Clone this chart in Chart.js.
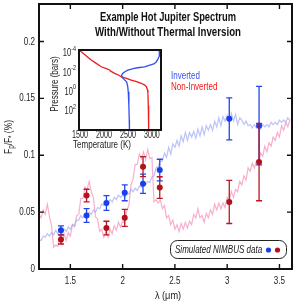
<!DOCTYPE html>
<html><head><meta charset="utf-8">
<script src="https://cdn.jsdelivr.net/npm/chart.js@4.4.0/dist/chart.umd.min.js"></script>
<style>
html,body{margin:0;padding:0;background:#fff;}
#wrap{position:relative;width:299px;height:306px;overflow:hidden;}
#main{position:absolute;left:0;top:0;}
#inset{position:absolute;left:45px;top:45px;}
</style></head><body>
<div id="wrap"><canvas id="main" width="299" height="306"></canvas><canvas id="inset" width="125" height="110"></canvas></div>
<script>
// ---------- data ----------
const wavelength = [
1.20,1.22,1.24,1.26,1.28,1.30,1.32,1.34,1.36,1.38,
1.40,1.42,1.44,1.46,1.48,1.50,1.52,1.54,1.56,1.58,
1.60,1.62,1.64,1.66,1.68,1.70,1.72,1.74,1.76,1.78,
1.80,1.82,1.84,1.86,1.88,1.90,1.92,1.94,1.96,1.98,
2.00,2.02,2.04,2.06,2.08,2.10,2.12,2.14,2.16,2.18,
2.20,2.22,2.24,2.26,2.28,2.30,2.32,2.34,2.36,2.38,
2.40,2.42,2.44,2.46,2.48,2.50,2.52,2.54,2.56,2.58,
2.60,2.62,2.64,2.66,2.68,2.70,2.72,2.74,2.76,2.78,
2.80,2.82,2.84,2.86,2.88,2.90,2.92,2.94,2.96,2.98,
3.00,3.02,3.04,3.06,3.08,3.10,3.12,3.14,3.16,3.18,
3.20,3.22,3.24,3.26,3.28,3.30,3.32,3.34,3.36,3.38,
3.40,3.42,3.44,3.46,3.48,3.50,3.52,3.54,3.56,3.58,
3.60];
const modelNonInverted = [
.048,.045,.052,.048,.057,.046,.038,.019,.021,.020,
.029,.022,.031,.025,.032,.029,.039,.037,.047,.048,
.062,.062,.072,.070,.077,.068,.063,.046,.044,.033,
.035,.028,.033,.028,.035,.031,.038,.034,.041,.037,
.042,.040,.051,.056,.074,.079,.092,.092,.101,.097,
.103,.096,.105,.097,.098,.059,.061,.058,.061,.053,
.056,.045,.047,.039,.043,.035,.039,.033,.040,.035,
.041,.036,.042,.039,.048,.045,.053,.045,.047,.041,
.049,.045,.052,.048,.057,.052,.058,.053,.058,.054,
.063,.060,.068,.063,.070,.068,.077,.074,.082,.078,
.089,.086,.093,.089,.095,.092,.102,.099,.108,.103,
.111,.108,.116,.113,.120,.116,.126,.122,.129,.125,
.131];
const modelInverted = [
.026,.025,.029,.028,.031,.029,.032,.030,.034,.031,
.034,.031,.035,.033,.037,.035,.039,.038,.043,.043,
.047,.045,.048,.046,.050,.048,.052,.050,.054,.053,
.057,.056,.060,.058,.061,.059,.063,.061,.065,.063,
.065,.063,.067,.066,.070,.068,.071,.069,.073,.072,
.076,.074,.077,.076,.081,.082,.089,.090,.095,.095,
.102,.098,.107,.101,.110,.107,.113,.108,.117,.112,
.120,.113,.120,.116,.121,.115,.123,.117,.125,.118,
.126,.122,.127,.122,.130,.125,.133,.126,.134,.130,
.135,.129,.137,.130,.136,.127,.133,.131,.127,.130,
.126,.127,.124,.127,.124,.126,.123,.127,.125,.127,
.125,.129,.127,.129,.127,.131,.129,.131,.129,.133,
.131];
const obsWave   = [1.41, 1.655, 1.845, 2.02, 2.195, 2.355, 3.02, 3.305];
const obsInv    = [0.034, 0.047, 0.058, 0.067, 0.075, 0.087, 0.132, 0.126];
const obsInvErr = [0.004, 0.006, 0.0065, 0.007, 0.0085, 0.0095, 0.0185, 0.0345];
const obsNon    = [0.026, 0.0646, 0.036, 0.045, 0.090, 0.0716, 0.059, 0.094];
const obsNonErr = [0.004, 0.0055, 0.006, 0.0075, 0.0088, 0.0095, 0.019, 0.034];
const xTicks = [1.5, 2, 2.5, 3, 3.5];
const xTickLabels = ['1.5', '2', '2.5', '3', '3.5'];
const yTicks = [0, 0.05, 0.1, 0.15, 0.2];
const yTickLabels = ['0', '0.05', '0.1', '0.15', '0.2'];

// inset T-P profiles (temperature K, log10 pressure in bars)
const invT    = [3165,3160,3150,3125,3090,3040,2958,2848,2700,2610,2500,2437,2390,2368,2380,2420,2472,2495,2507,2520,2528,2532];
const invLogP = [-4.3,-4.0,-3.6,-3.3,-3.0,-2.8,-2.68,-2.5,-2.4,-2.3,-2.15,-1.99,-1.8,-1.6,-1.4,-1.2,-0.95,-0.5,0.08,1.5,3.0,4.1];
const nonT    = [1460,1527,1640,1735,1840,1944,2050,2119,2140,2223,2300,2360,2470,2569,2680,2777,2850,2885,2910,2917,2925,2931,2935];
const nonLogP = [-4.35,-4.06,-3.6,-3.2,-2.85,-2.5,-2.3,-2.17,-2.05,-1.82,-1.65,-1.47,-1.3,-1.13,-0.96,-0.79,-0.6,-0.44,-0.1,0.25,1.5,3.0,4.1];
const insetTTicks = [1500, 2000, 2500, 3000];
const insetPTicks = [1e-4, 1e-2, 1, 1e2];
const insetPExp = ['-4', '-2', '0', '2'];

// ---------- styling ----------
const FF = '"Liberation Sans", Arial, sans-serif';
Chart.defaults.font.family = FF;
const TXT = '#222';
const SX = 0.73;   // horizontal condensing for the narrow typeface look
const BLUE_PT = '#1a3ee8', RED_PT = '#b3111c';

function txt(ctx, s, x, y, font, color, align, sx) {
  ctx.save();
  ctx.font = font; ctx.fillStyle = color; ctx.textAlign = align; ctx.textBaseline = 'middle';
  ctx.translate(x, y); ctx.scale(sx, 1);
  ctx.fillText(s, 0, 0);
  ctx.restore();
}
function txtFit(ctx, s, x, y, font, color, width) {
  ctx.save();
  ctx.font = font;
  const w = ctx.measureText(s).width;
  ctx.restore();
  txt(ctx, s, x, y, font, color, 'center', width / w);
}

const errPlugin = {
  id: 'err',
  beforeDatasetDraw(chart, args) {
    const ds = chart.data.datasets[args.index];
    if (!ds.errors) return;
    const ctx = chart.ctx, xs = chart.scales.x, ys = chart.scales.y;
    ctx.save();
    ctx.strokeStyle = ds.errColor; ctx.lineWidth = 1.3;
    ds.data.forEach((p, i) => {
      const e = ds.errors[i];
      const px = xs.getPixelForValue(p.x);
      const y1 = ys.getPixelForValue(p.y + e), y2 = ys.getPixelForValue(p.y - e);
      ctx.beginPath();
      ctx.moveTo(px, y1); ctx.lineTo(px, y2);
      ctx.moveTo(px - 3, y1); ctx.lineTo(px + 3, y1);
      ctx.moveTo(px - 3, y2); ctx.lineTo(px + 3, y2);
      ctx.stroke();
    });
    ctx.restore();
  }
};

const decorPlugin = {
  id: 'decor',
  afterDraw(chart) {
    const {ctx, chartArea: a, scales: {x, y}} = chart;
    ctx.save();
    // frame + inward ticks
    ctx.strokeStyle = '#111'; ctx.lineWidth = 2;
    ctx.strokeRect(a.left, a.top, a.right - a.left, a.bottom - a.top);
    ctx.lineWidth = 1.4;
    ctx.beginPath();
    xTicks.forEach(v => {
      const px = x.getPixelForValue(v);
      ctx.moveTo(px, a.bottom); ctx.lineTo(px, a.bottom - 5);
      ctx.moveTo(px, a.top); ctx.lineTo(px, a.top + 5);
    });
    yTicks.forEach(v => {
      const py = y.getPixelForValue(v);
      ctx.moveTo(a.left, py); ctx.lineTo(a.left + 5, py);
      ctx.moveTo(a.right, py); ctx.lineTo(a.right - 5, py);
    });
    ctx.stroke();
    ctx.restore();
    // tick labels
    xTicks.forEach((v, i) => txt(ctx, xTickLabels[i], x.getPixelForValue(v), a.bottom + 12, '11px ' + FF, TXT, 'center', SX));
    yTicks.forEach((v, i) => txt(ctx, yTickLabels[i], a.left - 4, y.getPixelForValue(v), '11px ' + FF, TXT, 'right', SX));
    // title
    txtFit(ctx, 'Example Hot Jupiter Spectrum', 168, 17.5, 'bold 13.5px ' + FF, '#111', 136);
    txtFit(ctx, 'With/Without Thermal Inversion', 168, 32.5, 'bold 13.5px ' + FF, '#111', 146);
    // x title
    txt(ctx, '\u03BB (\u03BCm)', 168, 296, '11.5px ' + FF, TXT, 'center', 0.8);
    // y title with subscripts
    ctx.save();
    ctx.translate(9, 137); ctx.rotate(-Math.PI / 2); ctx.scale(SX, 1);
    ctx.fillStyle = TXT; ctx.textBaseline = 'middle'; ctx.textAlign = 'left';
    const parts = [['F', 11.5, 0], ['p', 8.5, 3], ['/F', 11.5, 0], ['*', 8.5, 3], [' (%)', 11.5, 0]];
    let tw = 0;
    parts.forEach(p => { ctx.font = p[1] + 'px ' + FF; tw += ctx.measureText(p[0]).width; });
    let cx = -tw / 2;
    parts.forEach(p => { ctx.font = p[1] + 'px ' + FF; ctx.fillText(p[0], cx, p[2]); cx += ctx.measureText(p[0]).width; });
    ctx.restore();
    // inset legend labels
    txt(ctx, 'Inverted', 171, 76, '11px ' + FF, '#3550f0', 'left', SX);
    txt(ctx, 'Non-Inverted', 171, 87, '11px ' + FF, '#f01818', 'left', SX);
    // data legend box
    ctx.save();
    ctx.strokeStyle = '#222'; ctx.lineWidth = 1;
    ctx.beginPath();
    ctx.roundRect(170.5, 240.5, 116, 18, 7);
    ctx.stroke();
    ctx.restore();
    txt(ctx, 'Simulated NIMBUS data', 175, 250, 'italic 11.5px ' + FF, '#222', 'left', 0.7);
    ctx.save();
    ctx.fillStyle = BLUE_PT; ctx.beginPath(); ctx.arc(268.5, 250, 2.6, 0, Math.PI * 2); ctx.fill();
    ctx.fillStyle = RED_PT; ctx.beginPath(); ctx.arc(277.5, 250, 2.6, 0, Math.PI * 2); ctx.fill();
    ctx.restore();
  }
};

const xy = (xs, ys) => xs.map((v, i) => ({x: v, y: ys[i]}));

new Chart(document.getElementById('main'), {
  type: 'scatter',
  data: {
    datasets: [
      {data: xy(obsWave, obsNon), errors: obsNonErr, errColor: '#b81824', pointRadius: 3, pointBackgroundColor: RED_PT, pointBorderWidth: 0, showLine: false},
      {data: xy(obsWave, obsInv), errors: obsInvErr, errColor: '#2446ec', pointRadius: 3, pointBackgroundColor: BLUE_PT, pointBorderWidth: 0, showLine: false},
      {data: xy(wavelength, modelInverted), showLine: true, borderColor: 'rgba(160,170,245,0.7)', borderWidth: 1.2, pointRadius: 0, tension: 0},
      {data: xy(wavelength, modelNonInverted), showLine: true, borderColor: 'rgba(246,155,192,0.8)', borderWidth: 1.2, pointRadius: 0, tension: 0}
    ]
  },
  options: {
    responsive: false, animation: false,
    layout: {padding: {left: 0, right: 7, top: 4, bottom: 0}},
    plugins: {legend: {display: false}, tooltip: {enabled: false}},
    scales: {
      x: {
        type: 'linear', min: 1.2, max: 3.62,
        afterBuildTicks: s => { s.ticks = xTicks.map(v => ({value: v})); },
        grid: {display: false, drawTicks: false}, border: {display: false},
        ticks: {display: false},
        afterFit: s => { s.height = 37; }
      },
      y: {
        type: 'linear', min: 0, max: 0.233,
        afterBuildTicks: s => { s.ticks = yTicks.map(v => ({value: v})); },
        grid: {display: false, drawTicks: false}, border: {display: false},
        ticks: {display: false},
        afterFit: s => { s.width = 39; }
      }
    }
  },
  plugins: [errPlugin, decorPlugin]
});

const insetPlugin = {
  id: 'insetDecor',
  beforeDatasetsDraw(chart) {
    const {ctx, chartArea: a} = chart;
    ctx.save(); ctx.fillStyle = '#fff';
    ctx.fillRect(a.left, a.top, a.right - a.left, a.bottom - a.top);
    ctx.restore();
  },
  afterDraw(chart) {
    const {ctx, chartArea: a, scales: {x, y}} = chart;
    ctx.save();
    ctx.strokeStyle = '#111'; ctx.lineWidth = 2;
    ctx.strokeRect(a.left, a.top, a.right - a.left, a.bottom - a.top);
    ctx.restore();
    insetTTicks.forEach(v => txt(ctx, String(v), x.getPixelForValue(v), a.bottom + 5.5, '10.5px ' + FF, TXT, 'center', 0.68));
    insetPTicks.forEach((v, i) => {
      const py = y.getPixelForValue(v);
      ctx.save();
      ctx.fillStyle = TXT; ctx.textBaseline = 'middle'; ctx.textAlign = 'left';
      ctx.font = '10.5px ' + FF; const w1 = ctx.measureText('10').width;
      ctx.font = '7.5px ' + FF; const w2 = ctx.measureText(insetPExp[i]).width;
      ctx.translate(a.left - 3, py); ctx.scale(0.72, 1);
      ctx.font = '10.5px ' + FF; ctx.fillText('10', -(w1 + w2), 1);
      ctx.font = '7.5px ' + FF; ctx.fillText(insetPExp[i], -w2, -3.5);
      ctx.restore();
    });
    txt(ctx, 'Temperature (K)', 57, 100, '11px ' + FF, TXT, 'center', SX);
    ctx.save();
    ctx.translate(10, 39); ctx.rotate(-Math.PI / 2);
    txt(ctx, 'Pressure (bars)', 0, 0, '11px ' + FF, TXT, 'center', SX);
    ctx.restore();
  }
};

new Chart(document.getElementById('inset'), {
  type: 'scatter',
  data: {
    datasets: [
      {data: invT.map((t, i) => ({x: t, y: Math.pow(10, invLogP[i])})), showLine: true, borderColor: '#2f4ff5', borderWidth: 1.3, pointRadius: 0},
      {data: nonT.map((t, i) => ({x: t, y: Math.pow(10, nonLogP[i])})), showLine: true, borderColor: '#f01c1c', borderWidth: 1.3, pointRadius: 0}
    ]
  },
  options: {
    responsive: false, animation: false,
    layout: {padding: {left: 0, right: 9, top: 5, bottom: 0}},
    plugins: {legend: {display: false}, tooltip: {enabled: false}},
    scales: {
      x: {
        type: 'linear', min: 1480, max: 3190,
        afterBuildTicks: s => { s.ticks = insetTTicks.map(v => ({value: v})); },
        grid: {display: false, drawTicks: false}, border: {display: false},
        ticks: {display: false},
        afterFit: s => { s.height = 25; }
      },
      y: {
        type: 'logarithmic', reverse: true, min: Math.pow(10, -4.24), max: Math.pow(10, 4.05),
        afterBuildTicks: s => { s.ticks = insetPTicks.map(v => ({value: v})); },
        grid: {display: false, drawTicks: false}, border: {display: false},
        ticks: {display: false},
        afterFit: s => { s.width = 34; }
      }
    }
  },
  plugins: [insetPlugin]
});
</script>
</body></html>
